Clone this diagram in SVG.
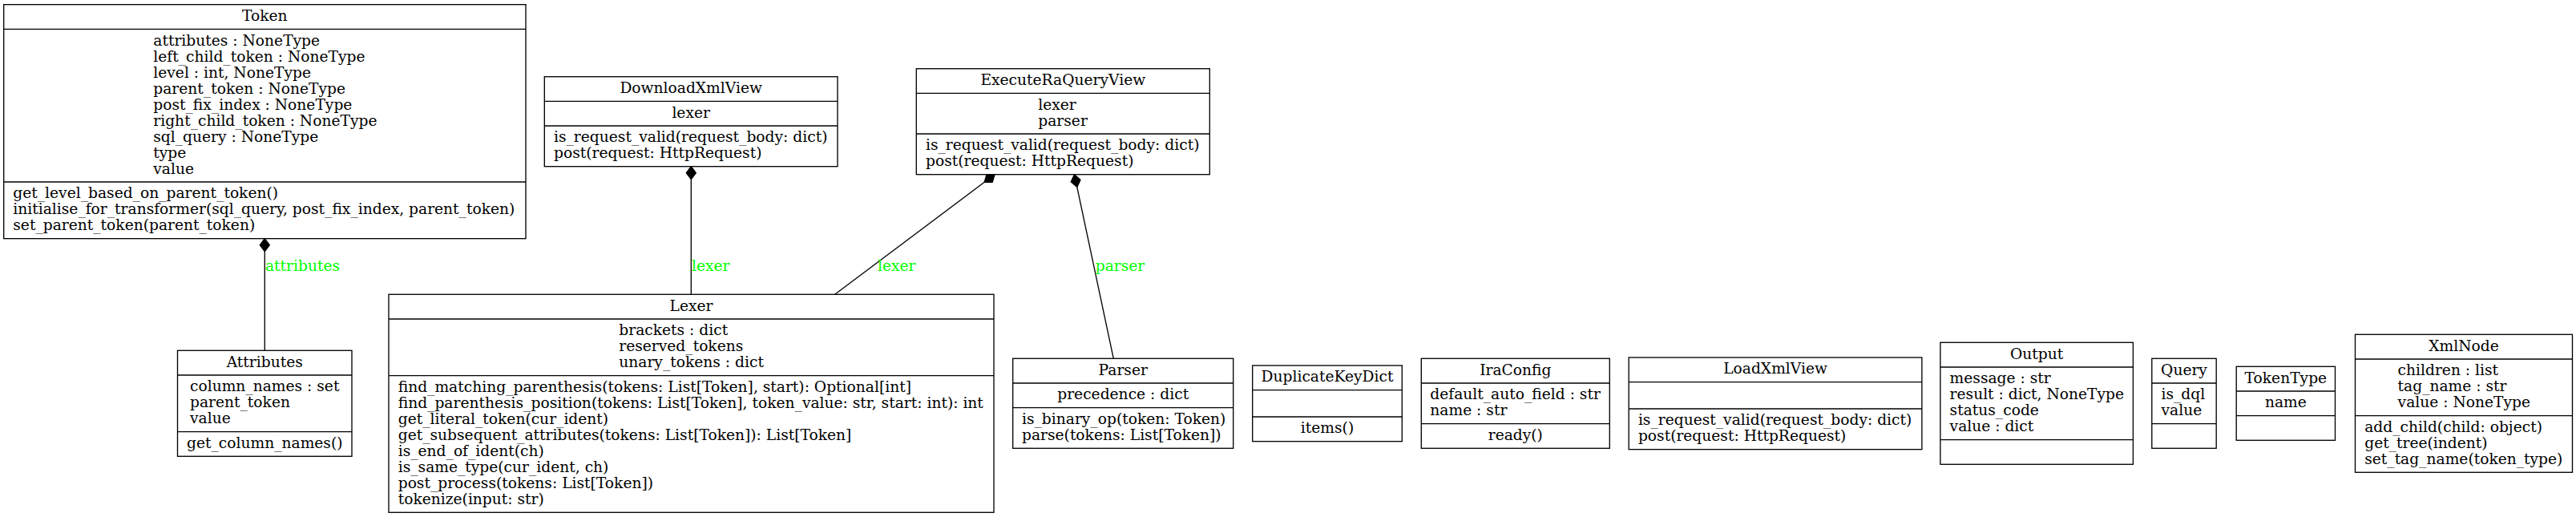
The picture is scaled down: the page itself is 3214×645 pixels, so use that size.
<svg xmlns="http://www.w3.org/2000/svg" width="3214" height="645" viewBox="0 0 3214 645">
<style>
  text { font-family: "DejaVu Serif", "Liberation Serif", serif; font-size: 18.67px; fill: #000; }
  .c { text-anchor: middle; }
  .box { fill: #fff; stroke: #000; stroke-width: 1.33; }
  .sep { stroke: #000; stroke-width: 1.33; }
  .edge { stroke: #000; stroke-width: 1.33; fill: none; }
  .dia { fill: #000; stroke: #000; stroke-width: 1.33; }
  .lbl { fill: #00ff00; }
</style>
<rect width="3214" height="645" fill="#fff"/>

<g id="connectors">
  <g id="edge-attributes">
    <path class="edge" d="M330.3,313.7 L330.3,437.3"/>
    <polygon class="dia" points="330.3,297.7 336.3,305.7 330.3,313.7 324.3,305.7"/>
    <text class="lbl" x="331" y="338.3">attributes</text>
  </g>
  <g id="edge-download-lexer">
    <path class="edge" d="M862.3,223.7 L862.3,367.3"/>
    <polygon class="dia" points="862.3,207.7 868.3,215.7 862.3,223.7 856.3,215.7"/>
    <text class="lbl" x="863" y="337.7">lexer</text>
  </g>
  <g id="edge-execute-lexer">
    <path class="edge" d="M1228.2,227.3 L1041.7,367.3"/>
    <polygon class="dia" points="1241,217.7 1238.2,227.3 1228.2,227.3 1231,217.7"/>
    <text class="lbl" x="1095" y="337.7">lexer</text>
  </g>
  <g id="edge-execute-parser">
    <path class="edge" d="M1343.8,233.4 L1389.3,447.3"/>
    <polygon class="dia" points="1340.5,217.7 1348,224.3 1343.8,233.4 1336.3,226.8"/>
    <text class="lbl" x="1366.7" y="337.7">parser</text>
  </g>
</g>

<g id="node-Token">
  <rect class="box" x="4.7" y="5.67" width="651.3" height="292"/>
  <line class="sep" x1="4.7" y1="36.33" x2="656" y2="36.33"/>
  <line class="sep" x1="4.7" y1="227" x2="656" y2="227"/>
  <text class="c" x="330.3" y="26.1">Token</text>
  <text x="191.3" y="56.7">attributes : NoneType</text>
  <text x="191.3" y="76.7">left_child_token : NoneType</text>
  <text x="191.3" y="96.7">level : int, NoneType</text>
  <text x="191.3" y="116.7">parent_token : NoneType</text>
  <text x="191.3" y="136.7">post_fix_index : NoneType</text>
  <text x="191.3" y="156.7">right_child_token : NoneType</text>
  <text x="191.3" y="176.7">sql_query : NoneType</text>
  <text x="191.3" y="196.7">type</text>
  <text x="191.3" y="216.7">value</text>
  <text x="16.3" y="247.4">get_level_based_on_parent_token()</text>
  <text x="16.3" y="267.4">initialise_for_transformer(sql_query, post_fix_index, parent_token)</text>
  <text x="16.3" y="287.4">set_parent_token(parent_token)</text>
</g>

<g id="node-Attributes">
  <rect class="box" x="221.5" y="437.3" width="217.5" height="132"/>
  <line class="sep" x1="221.5" y1="467.97" x2="439" y2="467.97"/>
  <line class="sep" x1="221.5" y1="538.63" x2="439" y2="538.63"/>
  <text class="c" x="330.25" y="457.7">Attributes</text>
  <text x="237" y="488.4">column_names : set</text>
  <text x="237" y="508.4">parent_token</text>
  <text x="237" y="528.4">value</text>
  <text class="c" x="330.25" y="559.1">get_column_names()</text>
</g>

<g id="node-DownloadXmlView">
  <rect class="box" x="679.3" y="95.7" width="365.7" height="112"/>
  <line class="sep" x1="679.3" y1="126.37" x2="1045" y2="126.37"/>
  <line class="sep" x1="679.3" y1="157.03" x2="1045" y2="157.03"/>
  <text class="c" x="862.15" y="116.1">DownloadXmlView</text>
  <text class="c" x="862.15" y="146.8">lexer</text>
  <text x="691" y="177.4">is_request_valid(request_body: dict)</text>
  <text x="691" y="197.4">post(request: HttpRequest)</text>
</g>

<g id="node-ExecuteRaQueryView">
  <rect class="box" x="1143.3" y="85.7" width="366" height="132"/>
  <line class="sep" x1="1143.3" y1="116.37" x2="1509.3" y2="116.37"/>
  <line class="sep" x1="1143.3" y1="167.03" x2="1509.3" y2="167.03"/>
  <text class="c" x="1326.3" y="106.1">ExecuteRaQueryView</text>
  <text x="1295.3" y="136.8">lexer</text>
  <text x="1295.3" y="156.8">parser</text>
  <text x="1155" y="187.4">is_request_valid(request_body: dict)</text>
  <text x="1155" y="207.4">post(request: HttpRequest)</text>
</g>

<g id="node-Lexer">
  <rect class="box" x="485" y="367.3" width="755" height="272"/>
  <line class="sep" x1="485" y1="397.97" x2="1240" y2="397.97"/>
  <line class="sep" x1="485" y1="468.63" x2="1240" y2="468.63"/>
  <text class="c" x="862.5" y="387.7">Lexer</text>
  <text x="772.3" y="418.4">brackets : dict</text>
  <text x="772.3" y="438.4">reserved_tokens</text>
  <text x="772.3" y="458.4">unary_tokens : dict</text>
  <text x="496.7" y="489">find_matching_parenthesis(tokens: List[Token], start): Optional[int]</text>
  <text x="496.7" y="509">find_parenthesis_position(tokens: List[Token], token_value: str, start: int): int</text>
  <text x="496.7" y="529">get_literal_token(cur_ident)</text>
  <text x="496.7" y="549">get_subsequent_attributes(tokens: List[Token]): List[Token]</text>
  <text x="496.7" y="569">is_end_of_ident(ch)</text>
  <text x="496.7" y="589">is_same_type(cur_ident, ch)</text>
  <text x="496.7" y="609">post_process(tokens: List[Token])</text>
  <text x="496.7" y="629">tokenize(input: str)</text>
</g>

<g id="node-Parser">
  <rect class="box" x="1263.7" y="447.3" width="275" height="112"/>
  <line class="sep" x1="1263.7" y1="477.97" x2="1538.7" y2="477.97"/>
  <line class="sep" x1="1263.7" y1="508.63" x2="1538.7" y2="508.63"/>
  <text class="c" x="1401.2" y="467.7">Parser</text>
  <text class="c" x="1401.2" y="498.4">precedence : dict</text>
  <text x="1275" y="529">is_binary_op(token: Token)</text>
  <text x="1275" y="549">parse(tokens: List[Token])</text>
</g>

<g id="node-DuplicateKeyDict">
  <rect class="box" x="1562.7" y="456" width="186.6" height="94.67"/>
  <line class="sep" x1="1562.7" y1="486.67" x2="1749.3" y2="486.67"/>
  <line class="sep" x1="1562.7" y1="520" x2="1749.3" y2="520"/>
  <text class="c" x="1656" y="476.4">DuplicateKeyDict</text>
  <text class="c" x="1656" y="540.4">items()</text>
</g>

<g id="node-IraConfig">
  <rect class="box" x="1773.3" y="447.3" width="235" height="112"/>
  <line class="sep" x1="1773.3" y1="477.97" x2="2008.3" y2="477.97"/>
  <line class="sep" x1="1773.3" y1="528.63" x2="2008.3" y2="528.63"/>
  <text class="c" x="1890.8" y="467.7">IraConfig</text>
  <text x="1784.3" y="498.4">default_auto_field : str</text>
  <text x="1784.3" y="518.4">name : str</text>
  <text class="c" x="1890.8" y="549">ready()</text>
</g>

<g id="node-LoadXmlView">
  <rect class="box" x="2032.2" y="446" width="365.7" height="114.67"/>
  <line class="sep" x1="2032.2" y1="476.67" x2="2397.9" y2="476.67"/>
  <line class="sep" x1="2032.2" y1="510" x2="2397.9" y2="510"/>
  <text class="c" x="2215.05" y="466.4">LoadXmlView</text>
  <text x="2043.9" y="530.4">is_request_valid(request_body: dict)</text>
  <text x="2043.9" y="550.4">post(request: HttpRequest)</text>
</g>

<g id="node-Output">
  <rect class="box" x="2420.9" y="427.3" width="240.5" height="152"/>
  <line class="sep" x1="2420.9" y1="457.97" x2="2661.4" y2="457.97"/>
  <line class="sep" x1="2420.9" y1="548.63" x2="2661.4" y2="548.63"/>
  <text class="c" x="2541.15" y="447.7">Output</text>
  <text x="2432.6" y="478.4">message : str</text>
  <text x="2432.6" y="498.4">result : dict, NoneType</text>
  <text x="2432.6" y="518.4">status_code</text>
  <text x="2432.6" y="538.4">value : dict</text>
</g>

<g id="node-Query">
  <rect class="box" x="2684.8" y="447.3" width="80.4" height="112"/>
  <line class="sep" x1="2684.8" y1="477.97" x2="2765.2" y2="477.97"/>
  <line class="sep" x1="2684.8" y1="528.63" x2="2765.2" y2="528.63"/>
  <text class="c" x="2725" y="467.7">Query</text>
  <text x="2696.5" y="498.4">is_dql</text>
  <text x="2696.5" y="518.4">value</text>
</g>

<g id="node-TokenType">
  <rect class="box" x="2790.2" y="457.3" width="123.3" height="92"/>
  <line class="sep" x1="2790.2" y1="487.97" x2="2913.5" y2="487.97"/>
  <line class="sep" x1="2790.2" y1="518.63" x2="2913.5" y2="518.63"/>
  <text class="c" x="2851.85" y="477.7">TokenType</text>
  <text class="c" x="2851.85" y="508.4">name</text>
</g>

<g id="node-XmlNode">
  <rect class="box" x="2938.5" y="417.3" width="271" height="172"/>
  <line class="sep" x1="2938.5" y1="447.97" x2="3209.5" y2="447.97"/>
  <line class="sep" x1="2938.5" y1="518.63" x2="3209.5" y2="518.63"/>
  <text class="c" x="3074" y="437.7">XmlNode</text>
  <text x="2991.6" y="468.4">children : list</text>
  <text x="2991.6" y="488.4">tag_name : str</text>
  <text x="2991.6" y="508.4">value : NoneType</text>
  <text x="2950.2" y="539">add_child(child: object)</text>
  <text x="2950.2" y="559">get_tree(indent)</text>
  <text x="2950.2" y="579">set_tag_name(token_type)</text>
</g>
</svg>
